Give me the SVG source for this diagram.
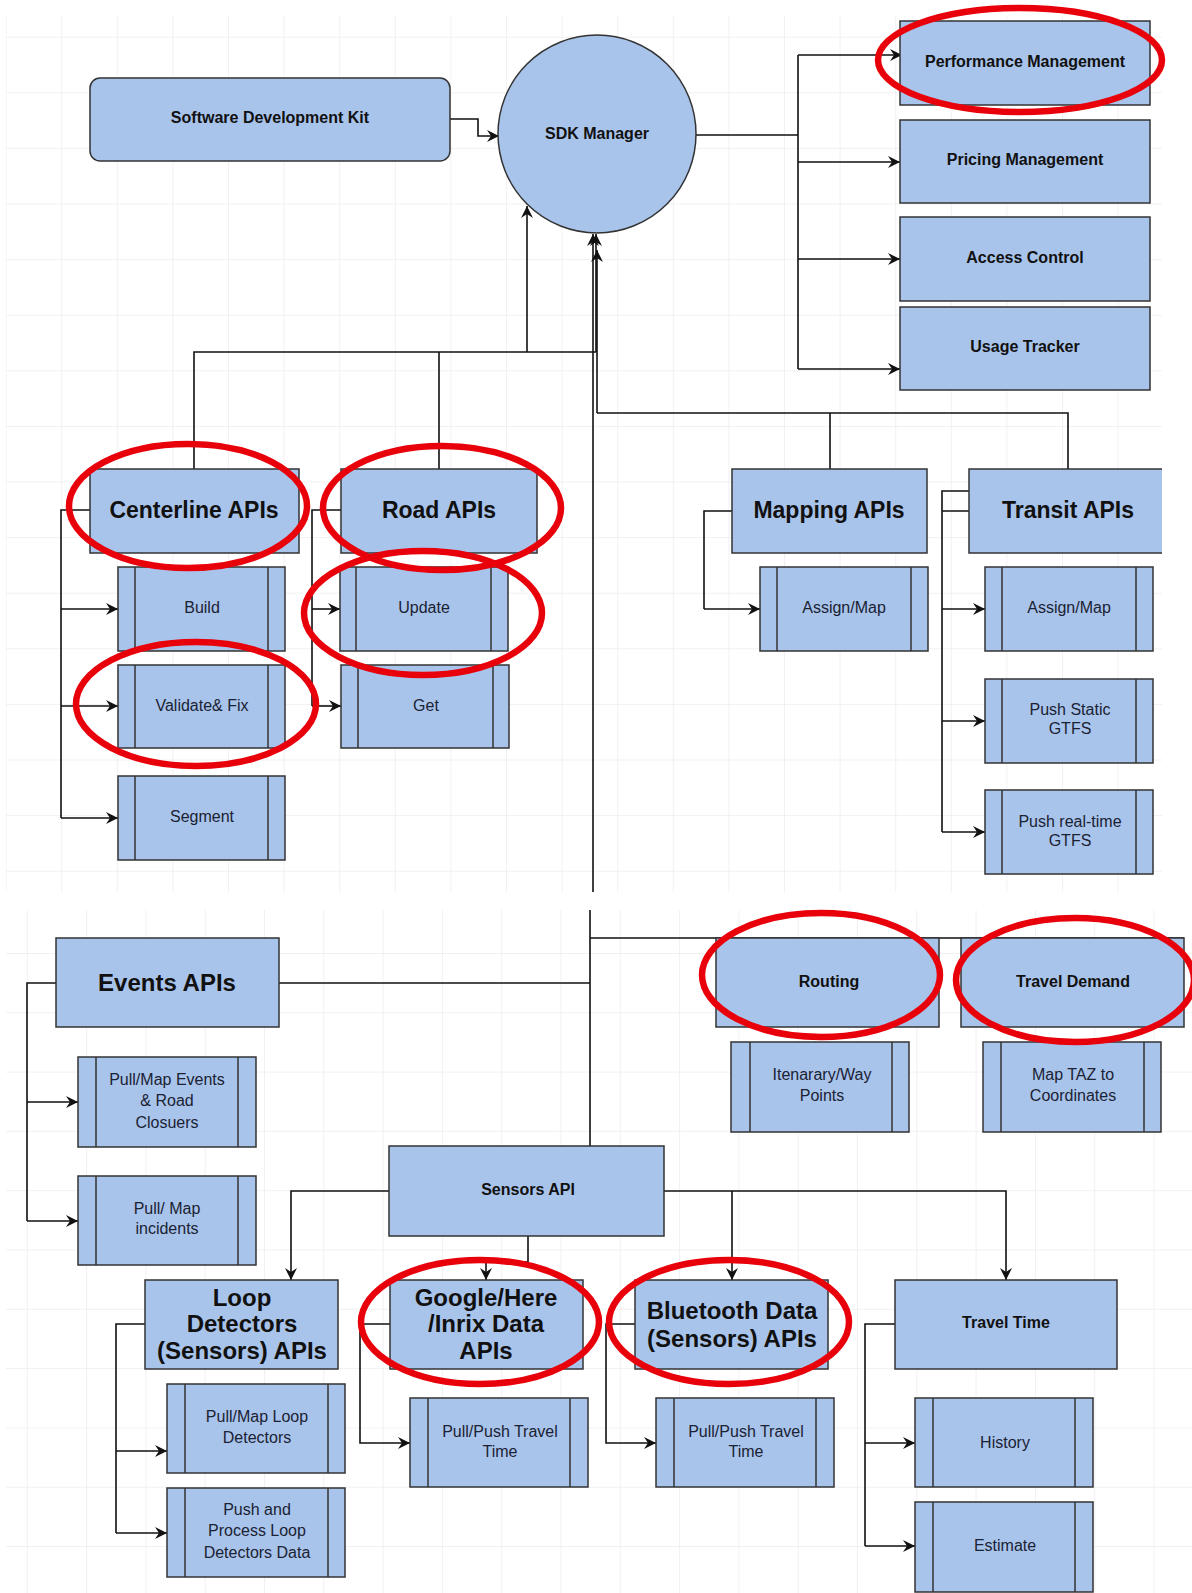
<svg xmlns="http://www.w3.org/2000/svg" width="1192" height="1593" viewBox="0 0 1192 1593">
<defs>
<pattern id="gridTop" patternUnits="userSpaceOnUse" x="61.2" y="36.7" width="55.6" height="55.6">
<path d="M0,0 H55.6 M0,0 V55.6" fill="none" stroke="#e4e4e4" stroke-width="1"/>
</pattern>
<pattern id="gridBot" patternUnits="userSpaceOnUse" x="26.8" y="953" width="59.3" height="59.3">
<path d="M0,0 H59.3 M0,0 V59.3" fill="none" stroke="#e4e4e4" stroke-width="1"/>
</pattern>
<marker id="arr" markerUnits="userSpaceOnUse" markerWidth="14" markerHeight="12" refX="12" refY="6" orient="auto">
<path d="M0,0 L12,6 L0,12 L4,6 Z" fill="#111"/>
</marker>
</defs>
<style>
.box{fill:#a9c4eb;stroke:#333;stroke-width:1.5}
.in{fill:none;stroke:#333;stroke-width:1.5}
.c{fill:none;stroke:#111;stroke-width:1.6}
.a{fill:none;stroke:#111;stroke-width:1.6;marker-end:url(#arr)}
.t{font-family:"Liberation Sans",Arial,sans-serif;font-size:16px;fill:#1a2233;text-anchor:middle}
.b{font-family:"Liberation Sans",Arial,sans-serif;font-size:16px;font-weight:bold;fill:#111;text-anchor:middle}
.h{font-family:"Liberation Sans",Arial,sans-serif;font-size:23px;font-weight:bold;fill:#111;text-anchor:middle}
.h2{font-family:"Liberation Sans",Arial,sans-serif;font-size:24px;font-weight:bold;fill:#111;text-anchor:middle}
.red{fill:none;stroke:#e8000b;stroke-width:6.5}
</style>
<rect x="0" y="0" width="1192" height="1593" fill="#ffffff"/>
<rect x="6" y="16" width="1156" height="876" fill="url(#gridTop)"/>
<rect x="6" y="910" width="1186" height="683" fill="url(#gridBot)"/>

<g id="connectors">
<path class="a" d="M450,119 H478 V136 H499"/>
<path class="c" d="M696,135 H798 M798,55 V369"/>
<path class="a" d="M798,55 H902"/>
<path class="a" d="M798,162 H900"/>
<path class="a" d="M798,259 H900"/>
<path class="a" d="M798,369 H900"/>
<path class="c" d="M194,469 V352 H596 M439,469 V352"/>
<path class="a" d="M527,352 V206"/>
<path class="a" d="M596,352 V234"/>
<path class="c" d="M830,469 V413 H597 M1068,469 V413 H830"/>
<path class="a" d="M597,413 V250"/>
<path class="a" d="M593,892 V234"/>
<path class="c" d="M90,510 H61 V818"/>
<path class="a" d="M61,609 H118"/>
<path class="a" d="M61,706 H118"/>
<path class="a" d="M61,818 H118"/>
<path class="c" d="M341,510 H312 V706"/>
<path class="a" d="M312,609 H340"/>
<path class="a" d="M312,706 H341"/>
<path class="c" d="M732,511 H704 V609"/>
<path class="a" d="M704,609 H760"/>
<path class="c" d="M969,491 H942 V832 M969,511 H942"/>
<path class="a" d="M942,609 H985"/>
<path class="a" d="M942,721 H985"/>
<path class="a" d="M942,832 H985"/>
<path class="c" d="M590,910 V1146 M279,983 H590 M590,938 H1184"/>
<path class="c" d="M56,983 H27 V1221"/>
<path class="a" d="M27,1102 H78"/>
<path class="a" d="M27,1221 H78"/>
<path class="a" d="M389,1191 H291 V1280"/>
<path class="a" d="M528,1236 V1262 H486 V1280"/>
<path class="a" d="M664,1191 H1006 V1280"/>
<path class="a" d="M732,1191 V1280"/>
<path class="c" d="M145,1324 H116 V1533"/>
<path class="a" d="M116,1451 H167"/>
<path class="a" d="M116,1533 H167"/>
<path class="a" d="M390,1324 H360 V1443 H410"/>
<path class="a" d="M635,1324 H606 V1443 H656"/>
<path class="c" d="M895,1324 H865 V1546"/>
<path class="a" d="M865,1443 H915"/>
<path class="a" d="M865,1546 H915"/>
</g>

<g id="sdk-kit"><rect class="box" x="90" y="78" width="360" height="83" rx="10"/><text class="b" x="270" y="123">Software Development Kit</text></g>
<g id="sdk-manager"><circle class="box" cx="597" cy="134" r="99"/><text class="b" x="597" y="139">SDK Manager</text></g>
<g id="performance"><rect class="box" x="900" y="21" width="250" height="84"/><text class="b" x="1025" y="67">Performance Management</text></g>
<g id="pricing"><rect class="box" x="900" y="120" width="250" height="83"/><text class="b" x="1025" y="165">Pricing Management</text></g>
<g id="access"><rect class="box" x="900" y="217" width="250" height="84"/><text class="b" x="1025" y="263">Access Control</text></g>
<g id="usage"><rect class="box" x="900" y="307" width="250" height="83"/><text class="b" x="1025" y="352">Usage Tracker</text></g>

<g id="centerline"><rect class="box" x="90" y="469" width="209" height="84"/><text class="h" x="194" y="518">Centerline APIs</text></g>
<g id="road"><rect class="box" x="341" y="469" width="196" height="84"/><text class="h" x="439" y="518">Road APIs</text></g>
<g id="mapping"><rect class="box" x="732" y="469" width="195" height="84"/><text class="h" x="829" y="518">Mapping APIs</text></g>
<g id="transit"><path class="box" d="M1162,469 H969 V553 H1162"/><text class="h" x="1068" y="518">Transit APIs</text></g>

<g id="build"><rect class="box" x="118" y="567" width="167" height="84"/><path class="in" d="M135,567 V651 M268,567 V651"/><text class="t" x="202" y="613">Build</text></g>
<g id="validate"><rect class="box" x="118" y="665" width="167" height="83"/><path class="in" d="M135,665 V748 M268,665 V748"/><text class="t" x="202" y="711">Validate&amp; Fix</text></g>
<g id="segment"><rect class="box" x="118" y="776" width="167" height="84"/><path class="in" d="M135,776 V860 M268,776 V860"/><text class="t" x="202" y="822">Segment</text></g>
<g id="update"><rect class="box" x="340" y="567" width="168" height="84"/><path class="in" d="M356,567 V651 M491,567 V651"/><text class="t" x="424" y="613">Update</text></g>
<g id="get"><rect class="box" x="341" y="665" width="168" height="83"/><path class="in" d="M358,665 V748 M493,665 V748"/><text class="t" x="426" y="711">Get</text></g>
<g id="mapping-assign"><rect class="box" x="760" y="567" width="168" height="84"/><path class="in" d="M777,567 V651 M911,567 V651"/><text class="t" x="844" y="613">Assign/Map</text></g>
<g id="transit-assign"><rect class="box" x="985" y="567" width="168" height="84"/><path class="in" d="M1002,567 V651 M1136,567 V651"/><text class="t" x="1069" y="613">Assign/Map</text></g>
<g id="push-static"><rect class="box" x="985" y="679" width="168" height="84"/><path class="in" d="M1002,679 V763 M1136,679 V763"/><text class="t" x="1070" y="715">Push Static</text><text class="t" x="1070" y="734">GTFS</text></g>
<g id="push-realtime"><rect class="box" x="985" y="790" width="168" height="84"/><path class="in" d="M1002,790 V874 M1136,790 V874"/><text class="t" x="1070" y="827">Push real-time</text><text class="t" x="1070" y="846">GTFS</text></g>

<g id="events"><rect class="box" x="56" y="938" width="223" height="89"/><text class="h2" x="167" y="991">Events APIs</text></g>
<g id="pull-events"><rect class="box" x="78" y="1057" width="178" height="90"/><path class="in" d="M96,1057 V1147 M238,1057 V1147"/><text class="t" x="167" y="1085">Pull/Map Events</text><text class="t" x="167" y="1106">&amp; Road</text><text class="t" x="167" y="1128">Closuers</text></g>
<g id="pull-incidents"><rect class="box" x="78" y="1176" width="178" height="89"/><path class="in" d="M96,1176 V1265 M238,1176 V1265"/><text class="t" x="167" y="1214">Pull/ Map</text><text class="t" x="167" y="1234">incidents</text></g>
<g id="sensors"><rect class="box" x="389" y="1146" width="275" height="90"/><text class="b" x="528" y="1195">Sensors API</text></g>
<g id="routing"><rect class="box" x="716" y="938" width="223" height="89"/><text class="b" x="829" y="987">Routing</text></g>
<g id="travel-demand"><rect class="box" x="961" y="938" width="223" height="89"/><text class="b" x="1073" y="987">Travel Demand</text></g>
<g id="itinerary"><rect class="box" x="731" y="1042" width="178" height="90"/><path class="in" d="M750,1042 V1132 M892,1042 V1132"/><text class="t" x="822" y="1080">Itenarary/Way</text><text class="t" x="822" y="1101">Points</text></g>
<g id="map-taz"><rect class="box" x="983" y="1042" width="178" height="90"/><path class="in" d="M1001,1042 V1132 M1144,1042 V1132"/><text class="t" x="1073" y="1080">Map TAZ to</text><text class="t" x="1073" y="1101">Coordinates</text></g>
<g id="loop"><rect class="box" x="145" y="1280" width="193" height="89"/><text class="h2" x="242" y="1306">Loop</text><text class="h2" x="242" y="1332">Detectors</text><text class="h2" x="242" y="1359">(Sensors) APIs</text></g>
<g id="google"><rect class="box" x="390" y="1280" width="193" height="89"/><text class="h2" x="486" y="1306">Google/Here</text><text class="h2" x="486" y="1332">/Inrix Data</text><text class="h2" x="486" y="1359">APIs</text></g>
<g id="bluetooth"><rect class="box" x="635" y="1280" width="193" height="89"/><text class="h2" x="732" y="1319">Bluetooth Data</text><text class="h2" x="732" y="1347">(Sensors) APIs</text></g>
<g id="travel-time"><rect class="box" x="895" y="1280" width="222" height="89"/><text class="b" x="1006" y="1328">Travel Time</text></g>
<g id="pull-loop"><rect class="box" x="167" y="1384" width="178" height="89"/><path class="in" d="M185,1384 V1473 M328,1384 V1473"/><text class="t" x="257" y="1422">Pull/Map Loop</text><text class="t" x="257" y="1443">Detectors</text></g>
<g id="push-loop"><rect class="box" x="167" y="1488" width="178" height="89"/><path class="in" d="M185,1488 V1577 M328,1488 V1577"/><text class="t" x="257" y="1515">Push and</text><text class="t" x="257" y="1536">Process Loop</text><text class="t" x="257" y="1558">Detectors Data</text></g>
<g id="google-pull"><rect class="box" x="410" y="1398" width="178" height="89"/><path class="in" d="M428,1398 V1487 M570,1398 V1487"/><text class="t" x="500" y="1437">Pull/Push Travel</text><text class="t" x="500" y="1457">Time</text></g>
<g id="bt-pull"><rect class="box" x="656" y="1398" width="178" height="89"/><path class="in" d="M674,1398 V1487 M816,1398 V1487"/><text class="t" x="746" y="1437">Pull/Push Travel</text><text class="t" x="746" y="1457">Time</text></g>
<g id="history"><rect class="box" x="915" y="1398" width="178" height="89"/><path class="in" d="M933,1398 V1487 M1075,1398 V1487"/><text class="t" x="1005" y="1448">History</text></g>
<g id="estimate"><rect class="box" x="915" y="1502" width="178" height="90"/><path class="in" d="M933,1502 V1592 M1075,1502 V1592"/><text class="t" x="1005" y="1551">Estimate</text></g>

<g id="highlights">
<ellipse class="red" cx="1020" cy="60" rx="142" ry="52"/>
<ellipse class="red" cx="188" cy="506" rx="119" ry="62"/>
<ellipse class="red" cx="442" cy="508" rx="119" ry="62"/>
<ellipse class="red" cx="423" cy="613" rx="119" ry="62"/>
<ellipse class="red" cx="196" cy="704" rx="120" ry="62"/>
<ellipse class="red" cx="821" cy="975" rx="119" ry="62"/>
<ellipse class="red" cx="1075" cy="980" rx="119" ry="62"/>
<ellipse class="red" cx="480" cy="1322" rx="119" ry="62"/>
<ellipse class="red" cx="729" cy="1322" rx="120" ry="62"/>
</g>
</svg>
